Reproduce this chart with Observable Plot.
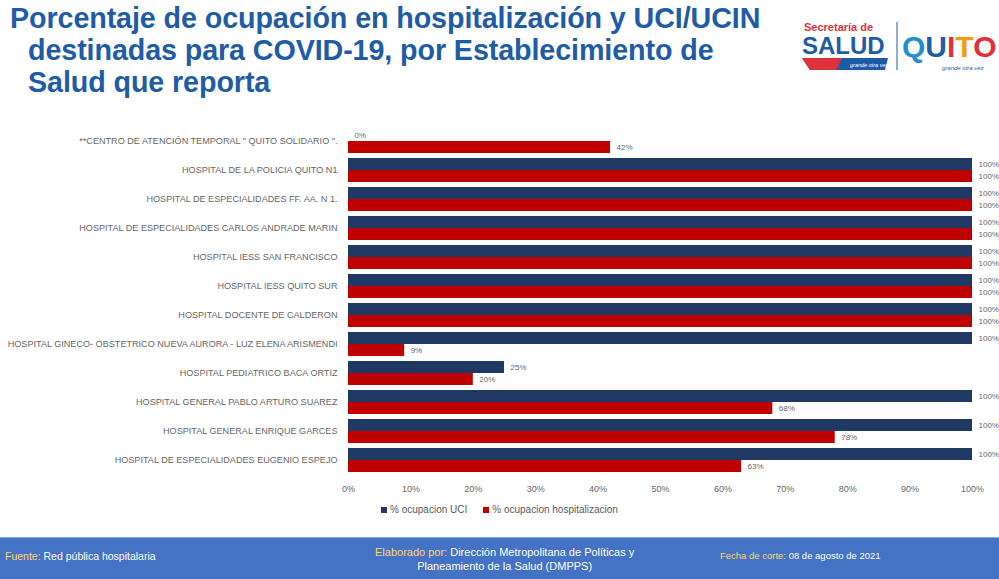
<!DOCTYPE html>
<html>
<head>
<meta charset="utf-8">
<script src="https://cdn.jsdelivr.net/npm/d3@7"></script>
<script src="https://cdn.jsdelivr.net/npm/@observablehq/plot@0.6"></script>
<style>
  html, body { margin: 0; padding: 0; background: #fff; }
  #page { position: relative; width: 999px; height: 579px; overflow: hidden; font-family: "Liberation Sans", Arial, sans-serif; }
  #title { position: absolute; left: 10px; top: 2px; color: #1f5ca8; font-weight: bold; font-size: 28.7px; line-height: 32px; letter-spacing: -0.1px; }
  #title .ind { padding-left: 18px; }
  #chart { position: absolute; left: 0; top: 120px; }
  #legend { position: absolute; top: 504px; left: 381px; font-size: 10px; color: #595959; display: flex; gap: 16px; }
  #legend span.sw { display: inline-block; width: 6px; height: 6px; margin-right: 3px; vertical-align: 0px; }
  #footer { position: absolute; left: 0; top: 537px; width: 999px; height: 42px; background: #4472c4; border-top: 1px solid #8faadc; color: #fff; font-family: "Liberation Sans", Arial, sans-serif; }
  #footer .y { color: #ffd966; }
  #logo { position: absolute; left: 800px; top: 16px; width: 199px; height: 62px; }
</style>
</head>
<body>
<div id="page">
  <div id="title">Porcentaje de ocupación en hospitalización y UCI/UCIN<br><span class="ind">destinadas para COVID-19, por Establecimiento de</span><br><span class="ind">Salud que reporta</span></div>
  <svg id="logo" width="199" height="62" viewBox="0 0 199 62">
    <text x="4" y="15" fill="#e0303a" font-weight="bold" font-size="11" font-family="Liberation Sans, Arial">Secretaría de</text>
    <text x="2" y="38" fill="#1f5ca8" font-weight="bold" font-size="24" font-family="Liberation Sans, Arial">SALUD</text>
    <polygon points="2,42 88,42 85,54 10,54" fill="#1f5ca8"/>
    <polygon points="2,42 42,42 36,54 10,54" fill="#e0303a"/>
    <text x="50" y="51" fill="#fff" font-size="5.5" font-style="italic">grande otra vez</text>
    <line x1="97" y1="6" x2="97" y2="54" stroke="#1f5ca8" stroke-width="1"/>
    <text x="102" y="41" font-weight="bold" font-size="30" font-family="Liberation Sans, Arial"><tspan fill="#1f8fd0">Q</tspan><tspan fill="#1f5ca8">U</tspan><tspan fill="#e0303a">I</tspan><tspan fill="#f39c12">T</tspan><tspan fill="#e0303a">O</tspan></text>
    <text x="142" y="54" fill="#1f5ca8" font-size="6" font-style="italic">grande otra vez</text>
  </svg>
  <div id="chart"></div>
  <div id="legend"></div>
  <div id="footer">
    <div style="position:absolute;left:5px;top:12px;font-size:10.5px;"><span class="y">Fuente:</span> Red pública hospitalaria</div>
    <div style="position:absolute;left:375px;top:7px;text-align:center;line-height:14px;font-size:11px;"><span class="y">Elaborado por:</span> Dirección Metropolitana de Políticas y<br>Planeamiento de la Salud (DMPPS)</div>
    <div style="position:absolute;left:720px;top:12px;font-size:9.5px;"><span class="y">Fecha de corte:</span> 08 de agosto de 2021</div>
  </div>
</div>
<script>
const categories = [
  "**CENTRO DE ATENCIÓN TEMPORAL \" QUITO SOLIDARIO \".",
  "HOSPITAL DE LA POLICIA QUITO N1",
  "HOSPITAL DE ESPECIALIDADES FF. AA. N 1.",
  "HOSPITAL DE ESPECIALIDADES CARLOS ANDRADE MARIN",
  "HOSPITAL IESS SAN FRANCISCO",
  "HOSPITAL IESS QUITO SUR",
  "HOSPITAL DOCENTE DE CALDERON",
  "HOSPITAL GINECO- OBSTETRICO NUEVA AURORA - LUZ ELENA ARISMENDI",
  "HOSPITAL PEDIATRICO BACA ORTIZ",
  "HOSPITAL GENERAL PABLO ARTURO SUAREZ",
  "HOSPITAL GENERAL ENRIQUE GARCES",
  "HOSPITAL DE ESPECIALIDADES EUGENIO ESPEJO"
];
const seriesNames = ["% ocupacion UCI", "% ocupacion hospitalizacion"];
const seriesColors = ["#203864", "#c00000"];
const uciValues  = [0, 100, 100, 100, 100, 100, 100, 100, 25, 100, 100, 100];
const hospValues = [42, 100, 100, 100, 100, 100, 100, 9, 20, 68, 78, 63];
const xTicks = [0, 10, 20, 30, 40, 50, 60, 70, 80, 90, 100];

const rows = categories.flatMap((c, i) => [
  {cat: c, serie: seriesNames[0], v: uciValues[i]},
  {cat: c, serie: seriesNames[1], v: hospValues[i]}
]);

const chart = Plot.plot({
  width: 999,
  height: 384,
  marginLeft: 348,
  marginRight: 27,
  marginTop: 6,
  marginBottom: 30,
  style: {fontFamily: "Liberation Sans, Arial, sans-serif", color: "#666666", background: "transparent"},
  facet: {data: rows, y: "cat"},
  fy: {domain: categories, label: null, paddingInner: 0.15, paddingOuter: 0.075, tickSize: 0, tickPadding: 11},
  y: {domain: seriesNames, axis: null, padding: 0},
  x: {domain: [0, 100], ticks: xTicks, tickFormat: d => d + "%", label: null, tickSize: 0, tickPadding: 13},
  color: {domain: seriesNames, range: seriesColors},
  marks: [
    Plot.ruleX([0], {stroke: "#d9d9d9", facet: "exclude"}),
    Plot.barX(rows, {x: "v", y: "serie", fill: "serie"}),
    Plot.text(rows, {x: "v", y: "serie", text: d => d.v + "%", textAnchor: "start", dx: 6, fontSize: 8, fill: "#666666"})
  ]
});
document.getElementById("chart").appendChild(chart);
chart.querySelectorAll("[aria-label='fy-axis'] text, [aria-label='fy-axis tick label'] text").forEach(t => { t.setAttribute("font-size", "9.1"); });
chart.querySelectorAll("[aria-label='x-axis'] text, [aria-label='x-axis tick label'] text").forEach(t => t.setAttribute("font-size", "9"));

const legend = document.getElementById("legend");
seriesNames.forEach((s, i) => {
  const d = document.createElement("div");
  d.innerHTML = `<span class="sw" style="background:${seriesColors[i]}"></span>${s}`;
  legend.appendChild(d);
});
</script>
</body>
</html>
